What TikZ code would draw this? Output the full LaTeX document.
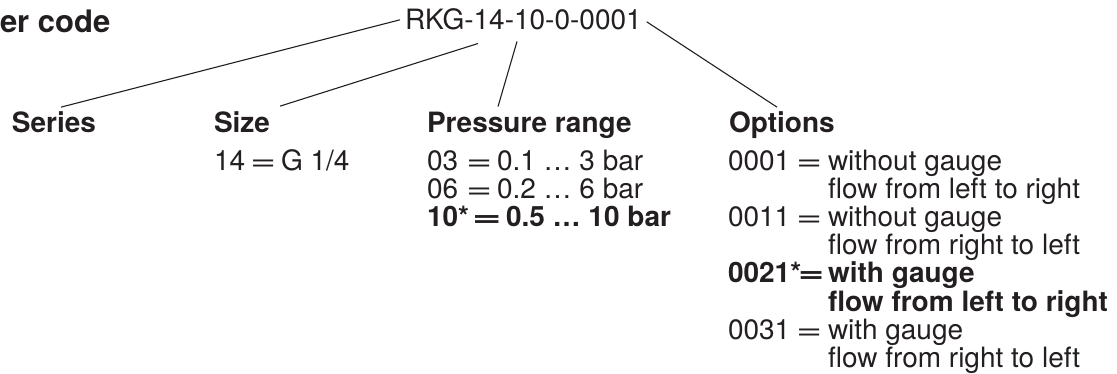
\documentclass[tikz,border=0pt]{standalone}
\usepackage{fontspec}
\setmainfont{TeX Gyre Heros}
\usepackage{graphicx}
\usetikzlibrary{calc}
\definecolor{ink}{HTML}{231F20}
\newcommand{\eqsign}{\scalebox{1.6}[1]{=}}
\newcommand{\eqwide}{\scalebox{1.8}[1]{=}}
\begin{document}
\begin{tikzpicture}[x=1pt,y=-1pt,
  txt/.style={anchor=base west, inner sep=0pt, outer sep=0pt, text=ink, font=\fontsize{28}{30}\selectfont},
  bld/.style={txt, font=\fontsize{28}{30}\selectfont\bfseries},
  conn/.style={line width=1.1pt, draw=ink}]
\useasboundingbox (0,0) rectangle (1117,374);

% title and code
\node[txt, font=\fontsize{31}{33}\selectfont\bfseries] (title) at (0,33) {er code};
\node[txt] (code) at (405,30) {RKG-14-10-0-0001};

% headers
\node[bld] (series) at (12,133) {Series};
\node[bld] (size) at (214,133) {Size};
\node[bld] (press) at (427,133) {Pressure range};
\node[bld] (opts) at (729,133) {Options};

% connectors
\draw[conn] ($(code.west)+(-5,0)$) -- ($(series.north)+(7,-5)$);
\draw[conn] ($(code.south west)+(73,13)$) -- ($(size.north east)+(10,-6)$);
\draw[conn] ($(code.south west)+(112,11)$) -- ($(press.north west)+(71,-6)$);
\draw[conn] ($(code.east)+(5,2)$) -- ($(opts.north west)+(48,-5)$);

% size
\node[txt] (s1c) at (214,171) {14};
\node[txt] (s1e) at (250,171) {\eqsign};
\node[txt] (s1v) at (281,171) {G 1/4};

% pressure range
\node[txt] (p1c) at (427,171) {03};
\node[txt] (p1e) at (466,171) {\eqsign};
\node[txt] (p1v) at (497,171) {0.1 … 3 bar};
\node[txt] (p2c) at (427,199) {06};
\node[txt] (p2e) at (466,199) {\eqsign};
\node[txt] (p2v) at (497,199) {0.2 … 6 bar};
\node[bld] (p3c) at (427,227) {10*};
\node[bld] (p3e) at (472,227) {\eqwide};
\node[bld] (p3v) at (506,227) {0.5 … 10 bar};

% options
\node[txt] (o1c) at (728,171) {0001};
\node[txt] (o1e) at (796,171) {\eqsign};
\node[txt] (o1a) at (828,171) {without gauge};
\node[txt] (o1b) at (828,199) {flow from left to right};
\node[txt] (o2c) at (728,227) {0011};
\node[txt] (o2e) at (796,227) {\eqsign};
\node[txt] (o2a) at (828,227) {without gauge};
\node[txt] (o2b) at (828,255) {flow from right to left};
\node[bld] (o3c) at (728,283) {0021*};
\node[bld] (o3e) at (798,283) {\eqsign};
\node[bld] (o3a) at (828,283) {with gauge};
\node[bld] (o3b) at (828,311) {flow from left to right};
\node[txt] (o4c) at (728,339) {0031};
\node[txt] (o4e) at (796,339) {\eqsign};
\node[txt] (o4a) at (828,339) {with gauge};
\node[txt] (o4b) at (828,367) {flow from right to left};
\end{tikzpicture}
\end{document}
